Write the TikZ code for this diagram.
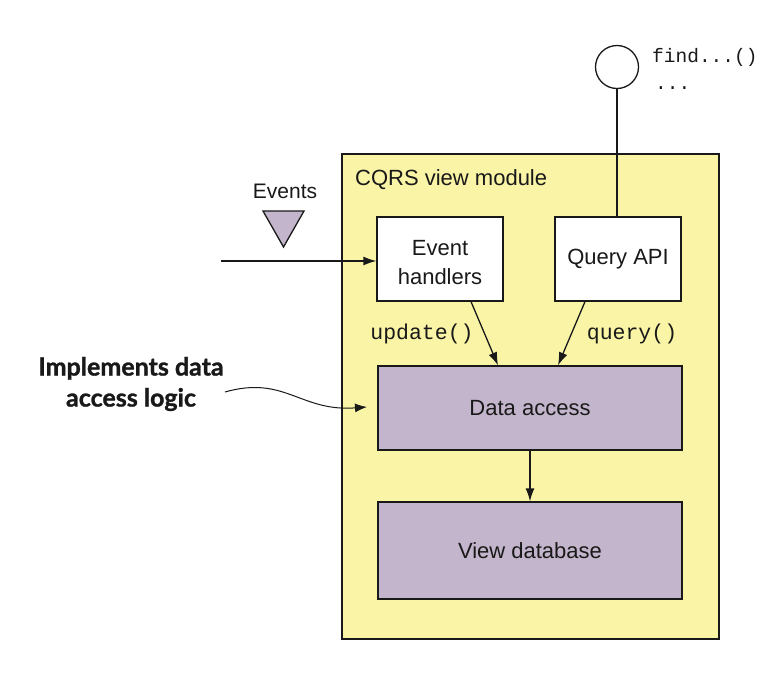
\documentclass[tikz,border=0pt]{standalone}
\usepackage{fontspec}
\setmainfont{Liberation Sans}
\setmonofont{Liberation Mono}
\newfontfamily\calloutfont{Lato}[BoldFeatures={FakeBold=1.2}]
\usetikzlibrary{arrows.meta}
\definecolor{modyellow}{RGB}{250,244,166}
\definecolor{lav}{RGB}{195,181,203}
\definecolor{ink}{RGB}{25,25,25}
\tikzset{
  box/.style={draw=ink, line width=1.3pt, rectangle, align=center, inner sep=0pt, font=\fontsize{22}{29}\selectfont, text=ink},
  wbox/.style={box, fill=white, minimum width=126pt, minimum height=84pt},
  pbox/.style={box, fill=lav, minimum width=304pt},
  conn/.style={draw=ink, line width=1.3pt},
  arr/.style={conn, -{Latex[length=13pt,width=9pt]}},
  code/.style={font=\ttfamily\fontsize{21.5}{25}\selectfont, text=ink, inner sep=0pt},
}
\begin{document}
\begin{tikzpicture}[x=1pt,y=-1pt]
\useasboundingbox (0,0) rectangle (776,688);
% module
\node[draw=ink, line width=1.3pt, fill=modyellow, minimum width=377pt, minimum height=485pt, inner sep=0pt] (mod) at (530.5,396.5) {};
\node[anchor=west, inner sep=0pt, font=\fontsize{22}{25}\selectfont, text=ink] (modlbl) at (355,180) {CQRS view module};
% boxes
\node[wbox] (eh) at (440,259) {};
\node[align=center, inner sep=0pt, font=\fontsize{22}{29}\selectfont, text=ink] (ehtxt) at (440,263) {Event\\handlers};
\node[wbox] (qa) at (618,259) {Query API};
\node[pbox, minimum height=84pt] (da) at (530,408) {Data access};
\node[pbox, minimum height=97pt] (vd) at (530,550.5) {View database};
% interface circle
\node[draw=ink, line width=1.3pt, fill=white, circle, minimum size=43pt, inner sep=0pt] (ci) at (617,67) {};
\node[code, anchor=west, font=\ttfamily\fontsize{19.5}{25}\selectfont] (find) at (652,57) {find...()};
\node[code, anchor=west, font=\ttfamily\fontsize{19.5}{25}\selectfont] (dots) at (655,88) {...};
\draw[conn] (ci.south) -- (qa.north -| ci.south);
% events
\node[inner sep=0pt, font=\fontsize{21}{25}\selectfont, text=ink] (evl) at (285,191) {Events};
\coordinate (tl) at (263,211);
\coordinate (tr) at (304,211);
\coordinate (tb) at (283.5,247);
\draw[ink, line width=1.3pt, fill=lav, line join=miter] (tl) -- (tr) -- (tb) -- cycle;
\coordinate (evstart) at (221,261);
\draw[arr] (evstart) -- (evstart -| eh.west);
% arrows
\draw[arr] ([xshift=31pt]eh.south) -- ([xshift=-32pt]da.north);
\draw[arr] ([xshift=-33pt]qa.south) -- ([xshift=28pt]da.north);
\node[code] (upd) at (422,334) {update()};
\node[code] (qry) at (632,334) {query()};
\draw[arr] (da.south) -- (vd.north);
% callout
\node[align=center, inner sep=0pt, font=\calloutfont\bfseries\fontsize{25}{31}\selectfont, text=ink] (callout) at (131,384) {Implements data\\access logic};
\coordinate (cstart) at (225,392);
\coordinate (cend) at (367,407);
\draw[conn, line width=1pt, -{Latex[length=12pt,width=9pt]}] (cstart) .. controls (285,375) and (300,412) .. (cend);
\end{tikzpicture}
\end{document}
